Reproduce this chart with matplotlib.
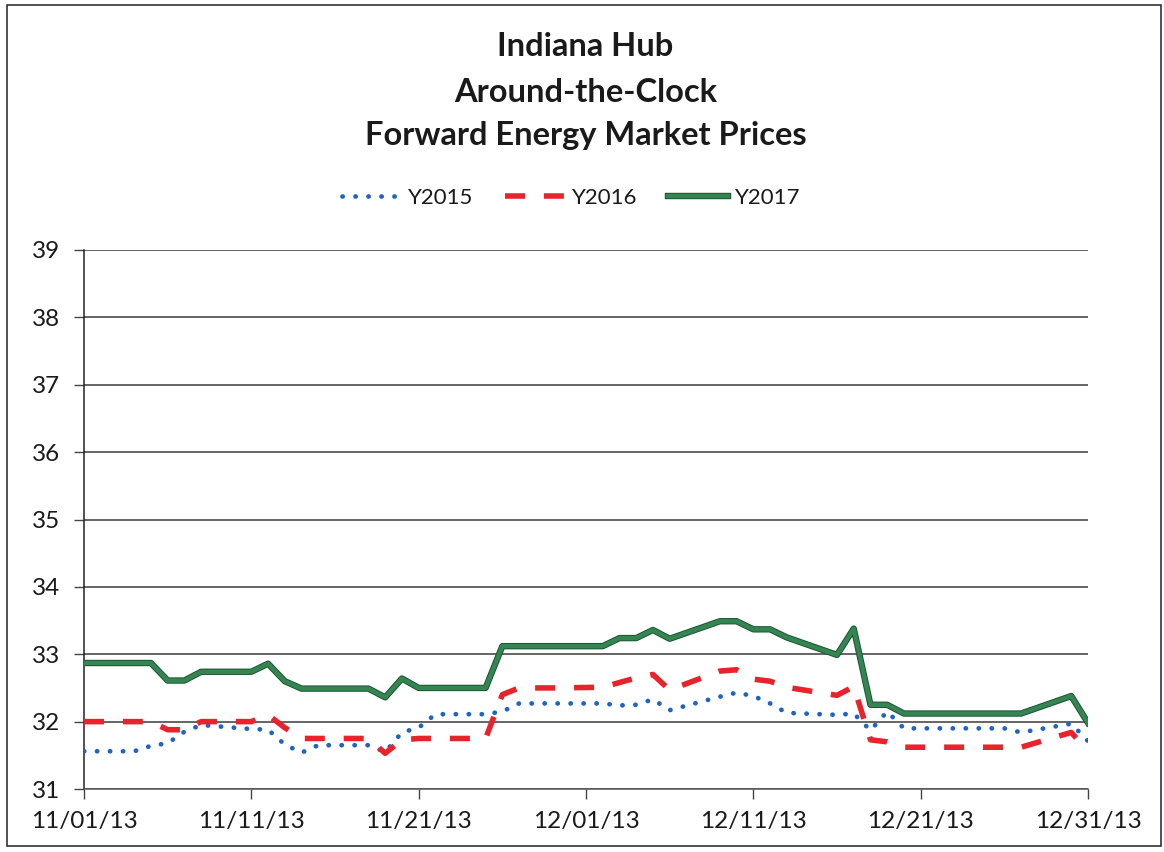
import matplotlib
matplotlib.use("Agg")
import matplotlib.pyplot as plt
import matplotlib.dates as mdates
import matplotlib.patheffects as pe
from matplotlib.patches import Rectangle
import datetime as dt

dates = ["11/01", "11/04", "11/05", "11/06", "11/07", "11/08", "11/11", "11/12", "11/13", "11/14",
         "11/15", "11/18", "11/19", "11/20", "11/21", "11/22", "11/25", "11/26", "11/27", "11/29",
         "12/02", "12/03", "12/04", "12/05", "12/06", "12/09", "12/10", "12/11", "12/12", "12/13",
         "12/16", "12/17", "12/18", "12/19", "12/20", "12/23", "12/24", "12/26", "12/27", "12/30",
         "12/31"]

y2015 = [31.56, 31.56, 31.64, 31.68, 31.85, 31.95, 31.89, 31.88, 31.66, 31.54,
         31.65, 31.65, 31.55, 31.84, 31.91, 32.11, 32.11, 32.15, 32.27, 32.27,
         32.27, 32.24, 32.25, 32.33, 32.17, 32.37, 32.43, 32.38, 32.27, 32.13,
         32.10, 32.12, 31.87, 32.15, 31.90, 31.90, 31.90, 31.90, 31.84, 31.97,
         31.71]

y2016 = [32.00, 32.00, 32.00, 31.88, 31.88, 32.00, 32.00, 32.10, 31.91, 31.75,
         31.75, 31.75, 31.53, 31.73, 31.75, 31.75, 31.75, 32.40, 32.50, 32.50,
         32.51, 32.58, 32.65, 32.70, 32.47, 32.75, 32.77, 32.63, 32.60, 32.51,
         32.39, 32.52, 31.73, 31.70, 31.62, 31.62, 31.62, 31.62, 31.62, 31.84,
         31.56]

y2017 = [32.87, 32.87, 32.87, 32.61, 32.61, 32.74, 32.74, 32.86, 32.60, 32.49,
         32.49, 32.49, 32.36, 32.64, 32.50, 32.50, 32.50, 33.12, 33.12, 33.12,
         33.12, 33.24, 33.24, 33.36, 33.23, 33.49, 33.49, 33.37, 33.37, 33.25,
         32.99, 33.38, 32.25, 32.25, 32.12, 32.12, 32.12, 32.12, 32.12, 32.38,
         31.98]

series_names = ["Y2015", "Y2016", "Y2017"]
title_lines = ["Indiana Hub", "Around-the-Clock", "Forward Energy Market Prices"]
y_ticks = [31, 32, 33, 34, 35, 36, 37, 38, 39]
x_tick_labels = ["11/01/13", "11/11/13", "11/21/13", "12/01/13", "12/11/13", "12/21/13", "12/31/13"]

plt.rcParams['font.family'] = ['Lato', 'DejaVu Sans']

x = [dt.datetime.strptime(d + "/2013", "%m/%d/%Y") for d in dates]
xt = [dt.datetime.strptime(s, "%m/%d/%y") for s in x_tick_labels]

W, H = 1164, 852
fig = plt.figure(figsize=(W / 100, H / 100), dpi=100)
fig.patch.set_facecolor("white")

# outer chart border
fig.add_artist(Rectangle((7 / W, 1 - 846 / H), (1161 - 7) / W, (846 - 5) / H,
                         transform=fig.transFigure, fill=False, edgecolor="#333333", lw=1.2))

ax = fig.add_axes([84 / W, 1 - 789 / H, (1088 - 84) / W, (789 - 250) / H])

ax.plot(x, y2015, color="#1f63c6", lw=3.4, linestyle=(0, (0.05, 2.7)),
        dash_capstyle="round", label=series_names[0], zorder=3)
ax.plot(x, y2016, color="#e8232b", lw=4.0, linestyle=(0, (3.6, 3.4)),
        dash_capstyle="butt", label=series_names[1], zorder=4)
ax.plot(x, y2017, color="#348552", lw=3.2, label=series_names[2], zorder=5,
        path_effects=[pe.Stroke(linewidth=4.6, foreground="#1b5532"), pe.Normal()])

ax.set_ylim(31, 39)
ax.set_yticks(y_ticks)
ax.set_xlim(xt[0], xt[-1])
ax.set_xticks(xt)
ax.set_xticklabels(x_tick_labels)

ax.yaxis.grid(True, color="#3a3a3a", lw=1.1)
ax.set_axisbelow(True)
for s in ["top", "right"]:
    ax.spines[s].set_visible(False)
ax.spines["left"].set_color("#222222")
ax.spines["bottom"].set_color("#555555")
ax.spines["left"].set_linewidth(1.1)
ax.spines["bottom"].set_linewidth(1.1)
ax.tick_params(axis="both", direction="out", length=7, width=1, color="#444444",
               labelsize=17.5, labelcolor="#1a1a1a")
ax.tick_params(axis="y", pad=10)
ax.tick_params(axis="x", pad=9)

for line, yc in zip(title_lines, [47, 92, 135]):
    fig.text(0.503, 1 - yc / H, line, ha="center", va="center",
             fontsize=23.5, fontweight="bold", color="#1a1a1a")

leg = fig.legend(loc="center", bbox_to_anchor=(571 / W, 1 - 198 / H), ncol=3, frameon=False,
                 fontsize=16, handlelength=2.7, columnspacing=1.4, handletextpad=0.3)
for t in leg.get_texts():
    t.set_color("#1a1a1a")

fig.savefig("out.png", dpi=100)
